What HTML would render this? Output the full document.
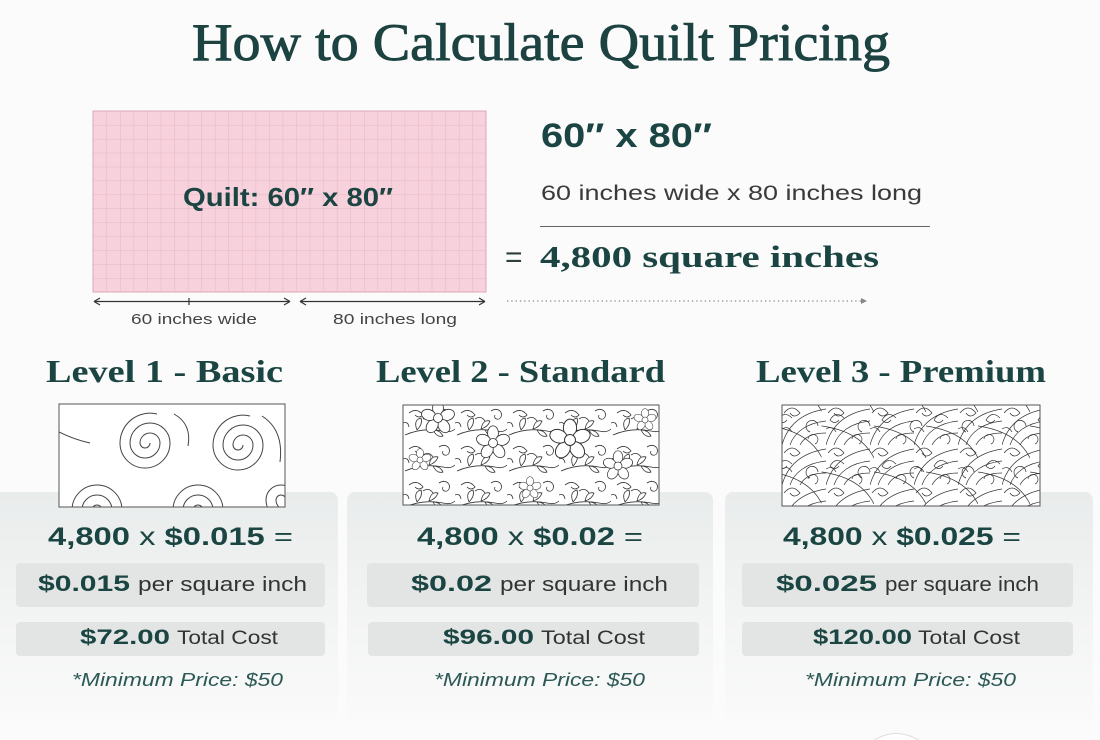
<!DOCTYPE html>
<html><head><meta charset="utf-8"><style>
html,body{margin:0;padding:0;background:#fbfbfb;}
svg{display:block;}
</style></head><body>
<svg width="1100" height="740" viewBox="0 0 1100 740" xmlns="http://www.w3.org/2000/svg">
<defs>
<linearGradient id="cardg" x1="0" y1="492" x2="0" y2="722" gradientUnits="userSpaceOnUse">
<stop offset="0" stop-color="#e9ecec"/><stop offset="0.5" stop-color="#f2f4f3"/><stop offset="1" stop-color="#fafafa"/>
</linearGradient>
<pattern id="grid" x="93" y="111" width="13.55" height="13.93" patternUnits="userSpaceOnUse">
<rect width="13.55" height="13.93" fill="#f7d1db"/>
<path d="M0 0V13.93M0 0H13.55" stroke="#e6b8c6" stroke-width="1" fill="none"/>
</pattern>
<pattern id="leaf" x="403" y="405" width="52" height="36" patternUnits="userSpaceOnUse">
<g fill="none" stroke="#333" stroke-width="0.8">
<path d="M2 30 Q20 22 40 26 Q48 28 52 24"/>
<path d="M14 25 q-4 -10 4 -12 q2 6 -4 12"/>
<path d="M26 24 q2 -10 9 -8 q-2 6 -9 8"/>
<path d="M30 25 q4 8 10 6 q-3 -6 -10 -6"/>
<path d="M6 8 q8 -6 14 2 q-4 4 -8 0"/>
<path d="M36 6 c6 -4 12 0 10 6 c-2 4 -8 2 -6 -2"/>
<path d="M20 14 q6 -4 10 2"/>
<path d="M0 18 q5 -2 6 4"/>
</g>
</pattern>
<pattern id="fth" x="782" y="405" width="44" height="40" patternUnits="userSpaceOnUse">
<g fill="none" stroke="#333" stroke-width="0.7">
<path d="M0 40 C5 22 18 8 44 4 M8 40 C12 28 24 18 44 16 M18 40 C22 32 30 28 44 28"/>
<path d="M2 8 q8 -10 16 0 q-6 6 -10 0"/>
<path d="M26 34 a5 5 0 1 1 7 5"/>
<path d="M0 24 q6 -4 10 3"/>
</g>
</pattern>
<pattern id="fth2" x="790" y="412" width="52" height="46" patternUnits="userSpaceOnUse" patternTransform="scale(-1 1)">
<g fill="none" stroke="#333" stroke-width="0.7">
<path d="M0 46 C8 30 24 18 52 14 M30 6 q8 -8 14 2 q-5 5 -9 0 M4 14 a6 6 0 1 1 8 6"/>
</g>
</pattern>
<g id="flower">
<g fill="#fff" stroke="#333" stroke-width="0.9">
<ellipse cx="0" cy="-11" rx="6" ry="8"/>
<ellipse cx="0" cy="-11" rx="6" ry="8" transform="rotate(72)"/>
<ellipse cx="0" cy="-11" rx="6" ry="8" transform="rotate(144)"/>
<ellipse cx="0" cy="-11" rx="6" ry="8" transform="rotate(216)"/>
<ellipse cx="0" cy="-11" rx="6" ry="8" transform="rotate(288)"/>
<circle r="5"/>
</g>
</g>
<clipPath id="c1"><rect x="59" y="404" width="226" height="103"/></clipPath>
<clipPath id="c2"><rect x="403" y="405" width="256" height="100"/></clipPath>
</defs>

<rect width="1100" height="740" fill="#fbfbfb"/>

<!-- Title -->
<text x="192" y="60" font-family="Liberation Serif, serif" font-size="53" fill="#1c4341" stroke="#1c4341" stroke-width="0.9" textLength="698" lengthAdjust="spacingAndGlyphs">How to Calculate Quilt Pricing</text>

<!-- Quilt -->
<rect x="93" y="111" width="393" height="181" fill="url(#grid)" stroke="#dba9b8" stroke-width="1"/>
<text x="183" y="206" font-family="Liberation Sans, sans-serif" font-weight="bold" font-size="26" fill="#1b4542" textLength="210" lengthAdjust="spacingAndGlyphs">Quilt: 60″ x 80″</text>

<g stroke="#333" stroke-width="1.2" fill="none">
<path d="M94 301.5H290M94 301.5l6 -3.5M94 301.5l6 3.5M290 301.5l-6 -3.5M290 301.5l-6 3.5M189 298v7"/>
<path d="M300 301.5H485M300 301.5l6 -3.5M300 301.5l6 3.5M485 301.5l-6 -3.5M485 301.5l-6 3.5"/>
</g>
<text x="131" y="324" font-family="Liberation Sans, sans-serif" font-size="15" fill="#444" textLength="126" lengthAdjust="spacingAndGlyphs">60 inches wide</text>
<text x="333" y="324" font-family="Liberation Sans, sans-serif" font-size="15" fill="#444" textLength="124" lengthAdjust="spacingAndGlyphs">80 inches long</text>

<!-- Right formula -->
<text x="541" y="147" font-family="Liberation Sans, sans-serif" font-weight="bold" font-size="34" fill="#1b4542" textLength="171" lengthAdjust="spacingAndGlyphs">60″ x 80″</text>
<text x="541" y="200" font-family="Liberation Sans, sans-serif" font-size="21" fill="#3a3a3a" textLength="381" lengthAdjust="spacingAndGlyphs">60 inches wide x 80 inches long</text>
<line x1="540" y1="226.5" x2="930" y2="226.5" stroke="#666" stroke-width="1"/>
<text x="505" y="267" font-family="Liberation Sans, sans-serif" font-size="30" fill="#2d3f3e">=</text>
<text x="540" y="267" font-family="Liberation Serif, serif" font-weight="bold" font-size="31" fill="#1b4542" textLength="339" lengthAdjust="spacingAndGlyphs">4,800 square inches</text>
<line x1="507" y1="301" x2="862" y2="301" stroke="#888" stroke-width="1.3" stroke-dasharray="1.3 3"/>
<path d="M861 298l6 3l-6 3z" fill="#888"/>

<!-- Level headings -->
<text x="46" y="382" font-family="Liberation Serif, serif" font-weight="bold" font-size="32" fill="#1b4542" textLength="237" lengthAdjust="spacingAndGlyphs">Level 1 - Basic</text>
<text x="376" y="382" font-family="Liberation Serif, serif" font-weight="bold" font-size="32" fill="#1b4542" textLength="289" lengthAdjust="spacingAndGlyphs">Level 2 - Standard</text>
<text x="756" y="382" font-family="Liberation Serif, serif" font-weight="bold" font-size="32" fill="#1b4542" textLength="290" lengthAdjust="spacingAndGlyphs">Level 3 - Premium</text>

<!-- Cards -->
<rect x="-10" y="492" width="348" height="230" rx="8" fill="url(#cardg)"/>
<rect x="347" y="492" width="366" height="230" rx="8" fill="url(#cardg)"/>
<rect x="725" y="492" width="368" height="230" rx="8" fill="url(#cardg)"/>

<!-- Pattern boxes -->
<rect x="59" y="404" width="226" height="103" fill="#fff"/>
<g clip-path="url(#c1)" fill="none" stroke="#444" stroke-width="1">
<path d="M150 443 a5 5 0 0 1 -10 0 a10 10 0 0 1 20 0 a15 15 0 0 1 -30 0 a20 20 0 0 1 40 0 a25 25 0 0 1 -50 0 a30 30 0 0 1 37 -29"/>
<path d="M243 445 a5 5 0 0 1 -10 0 a10 10 0 0 1 20 0 a15 15 0 0 1 -30 0 a20 20 0 0 1 40 0 a25 25 0 0 1 -50 0 a30 30 0 0 1 37 -29"/>
<path d="M102 510 a5 5 0 0 0 -10 0 a10 10 0 0 0 20 0 a15 15 0 0 0 -30 0 a20 20 0 0 0 40 0 a25 25 0 0 0 -50 0 a30 30 0 0 0 60 0"/>
<path d="M203 510 a5 5 0 0 0 -10 0 a10 10 0 0 0 20 0 a15 15 0 0 0 -30 0 a20 20 0 0 0 40 0 a25 25 0 0 0 -50 0 a30 30 0 0 0 60 0"/>
<path d="M286 500 a5 5 0 0 0 -10 0 a10 10 0 0 0 20 0 a15 15 0 0 0 -30 0 a20 20 0 0 0 40 0"/>
<path d="M59 432 Q75 440 90 443"/>
<path d="M174 414 Q192 424 188 446"/>
<path d="M262 416 Q284 430 280 462"/>
</g>
<rect x="59" y="404" width="226" height="103" fill="none" stroke="#555" stroke-width="1"/>

<rect x="403" y="405" width="256" height="100" fill="#fff"/>
<g clip-path="url(#c2)">
<rect x="403" y="405" width="256" height="100" fill="url(#leaf)"/>
<use href="#flower" transform="translate(438 418) scale(0.9)"/>
<use href="#flower" transform="translate(493 443) scale(0.9)"/>
<use href="#flower" transform="translate(570 440) scale(1.1)"/>
<use href="#flower" transform="translate(618 466) scale(0.8)"/>
<use href="#flower" transform="translate(420 460) scale(0.6)"/>
<use href="#flower" transform="translate(530 488) scale(0.6)"/>
<use href="#flower" transform="translate(645 420) scale(0.6)"/>
</g>
<rect x="403" y="405" width="256" height="100" fill="none" stroke="#555" stroke-width="1"/>

<rect x="782" y="405" width="258" height="101" fill="#fff"/>
<rect x="782" y="405" width="258" height="101" fill="url(#fth)"/>
<rect x="782" y="405" width="258" height="101" fill="url(#fth2)"/>
<rect x="782" y="405" width="258" height="101" fill="none" stroke="#555" stroke-width="1"/>

<!-- Card 1 -->
<text x="48" y="545" font-family="Liberation Sans, sans-serif" font-size="25" fill="#1b4542" textLength="245" lengthAdjust="spacingAndGlyphs"><tspan font-weight="bold">4,800</tspan> x <tspan font-weight="bold">$0.015</tspan> =</text>
<rect x="16" y="563" width="309" height="44" rx="4" fill="#e2e5e4"/>
<text x="38" y="591" font-family="Liberation Sans, sans-serif" font-weight="bold" font-size="22" fill="#1b4542" textLength="92" lengthAdjust="spacingAndGlyphs">$0.015</text>
<text x="138" y="591" font-family="Liberation Sans, sans-serif" font-size="20" fill="#333" textLength="169" lengthAdjust="spacingAndGlyphs">per square inch</text>
<rect x="16" y="622" width="309" height="34" rx="4" fill="#e2e5e4"/>
<text x="80" y="644" font-family="Liberation Sans, sans-serif" font-weight="bold" font-size="21" fill="#1b4542" textLength="90" lengthAdjust="spacingAndGlyphs">$72.00</text>
<text x="177" y="644" font-family="Liberation Sans, sans-serif" font-size="19" fill="#333" textLength="101" lengthAdjust="spacingAndGlyphs">Total Cost</text>
<text x="72" y="686" font-family="Liberation Sans, sans-serif" font-style="italic" font-size="18" fill="#2c5955" textLength="211" lengthAdjust="spacingAndGlyphs">*Minimum Price: $50</text>

<!-- Card 2 -->
<text x="417" y="545" font-family="Liberation Sans, sans-serif" font-size="25" fill="#1b4542" textLength="226" lengthAdjust="spacingAndGlyphs"><tspan font-weight="bold">4,800</tspan> x <tspan font-weight="bold">$0.02</tspan> =</text>
<rect x="367" y="563" width="332" height="44" rx="4" fill="#e2e5e4"/>
<text x="411" y="591" font-family="Liberation Sans, sans-serif" font-weight="bold" font-size="22" fill="#1b4542" textLength="81" lengthAdjust="spacingAndGlyphs">$0.02</text>
<text x="500" y="591" font-family="Liberation Sans, sans-serif" font-size="20" fill="#333" textLength="168" lengthAdjust="spacingAndGlyphs">per square inch</text>
<rect x="368" y="622" width="331" height="34" rx="4" fill="#e2e5e4"/>
<text x="443" y="644" font-family="Liberation Sans, sans-serif" font-weight="bold" font-size="21" fill="#1b4542" textLength="91" lengthAdjust="spacingAndGlyphs">$96.00</text>
<text x="541" y="644" font-family="Liberation Sans, sans-serif" font-size="19" fill="#333" textLength="104" lengthAdjust="spacingAndGlyphs">Total Cost</text>
<text x="434" y="686" font-family="Liberation Sans, sans-serif" font-style="italic" font-size="18" fill="#2c5955" textLength="211" lengthAdjust="spacingAndGlyphs">*Minimum Price: $50</text>

<!-- Card 3 -->
<text x="783" y="545" font-family="Liberation Sans, sans-serif" font-size="25" fill="#1b4542" textLength="238" lengthAdjust="spacingAndGlyphs"><tspan font-weight="bold">4,800</tspan> x <tspan font-weight="bold">$0.025</tspan> =</text>
<rect x="742" y="563" width="331" height="44" rx="4" fill="#e2e5e4"/>
<text x="776" y="591" font-family="Liberation Sans, sans-serif" font-weight="bold" font-size="22" fill="#1b4542" textLength="101" lengthAdjust="spacingAndGlyphs">$0.025</text>
<text x="885" y="591" font-family="Liberation Sans, sans-serif" font-size="20" fill="#333" textLength="154" lengthAdjust="spacingAndGlyphs">per square inch</text>
<rect x="742" y="622" width="331" height="34" rx="4" fill="#e2e5e4"/>
<text x="813" y="644" font-family="Liberation Sans, sans-serif" font-weight="bold" font-size="21" fill="#1b4542" textLength="99" lengthAdjust="spacingAndGlyphs">$120.00</text>
<text x="918" y="644" font-family="Liberation Sans, sans-serif" font-size="19" fill="#333" textLength="102" lengthAdjust="spacingAndGlyphs">Total Cost</text>
<text x="805" y="686" font-family="Liberation Sans, sans-serif" font-style="italic" font-size="18" fill="#2c5955" textLength="211" lengthAdjust="spacingAndGlyphs">*Minimum Price: $50</text>

<path d="M873 741 Q896 726 920 741" fill="#fff" stroke="#ddd" stroke-width="1"/>
</svg>
</body></html>
